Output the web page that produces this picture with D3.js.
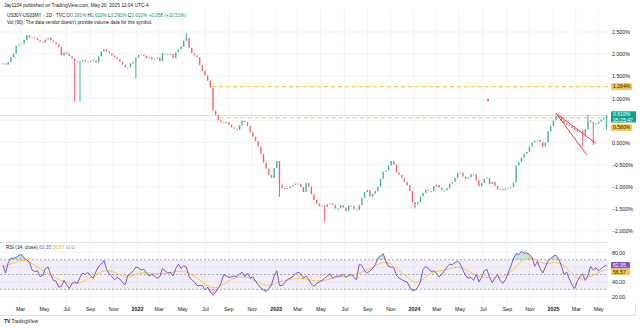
<!DOCTYPE html>
<html><head><meta charset="utf-8">
<script src="https://cdn.jsdelivr.net/npm/d3@7"></script>
<style>
html,body{margin:0;padding:0;background:#fff;}
svg{display:block;font-family:"Liberation Sans",Arial,sans-serif;}
</style></head><body>
<svg id="c" width="640" height="328"></svg>
<script>
// ---------- DATA ----------
const startDate = "2021-01-15";      // first weekly candle
const stepDays = 7;                  // weekly candles
const closes = [
 1.79,1.76,1.82,1.93,2.01,2.19,2.22,2.24,2.32,2.43,
 2.37,2.38,2.36,2.32,2.28,2.26,2.33,2.37,2.31,2.27,
 2.22,2.16,1.97,2.04,2.00,1.95,1.90,1.84,1.83,1.84,
 1.87,1.83,1.82,1.85,1.86,1.81,1.95,2.06,2.11,2.06,
 2.02,1.97,1.93,1.89,1.83,1.76,1.70,1.70,1.79,1.82,
 1.92,1.98,1.99,1.96,1.91,1.93,1.88,1.89,1.92,1.84,
 2.02,2.01,1.99,2.00,1.91,2.04,2.11,2.17,2.30,2.36,
 2.14,2.02,1.97,1.93,1.75,1.62,1.52,1.40,1.24,0.72,
 0.62,0.50,0.46,0.44,0.46,0.40,0.34,0.31,0.28,0.39,
 0.49,0.46,0.37,0.23,0.13,0.03,-0.09,-0.26,-0.46,-0.59,
 -0.73,-0.80,-0.58,-0.42,-0.95,-1.03,-1.05,-1.03,-0.99,-0.96,
 -0.93,-0.94,-1.01,-1.12,-0.92,-1.00,-1.17,-1.30,-1.38,-1.44,
 -1.42,-1.46,-1.40,-1.38,-1.41,-1.49,-1.49,-1.42,-1.47,-1.55,
 -1.43,-1.44,-1.51,-1.53,-1.42,-1.25,-1.12,-1.08,-1.22,-1.16,
 -1.10,-1.00,-0.82,-0.66,-0.63,-0.52,-0.42,-0.50,-0.68,-0.73,
 -0.81,-0.89,-0.97,-1.10,-1.35,-1.40,-1.35,-1.22,-1.14,-1.07,
 -1.10,-1.10,-0.99,-0.96,-1.02,-1.08,-1.08,-1.03,-0.93,-0.89,
 -0.80,-0.69,-0.68,-0.77,-0.82,-0.79,-0.72,-0.72,-0.86,-0.99,
 -0.92,-0.82,-0.80,-0.94,-0.89,-0.98,-1.06,-1.05,-1.08,-1.04,
 -1.02,-1.01,-0.90,-0.52,-0.44,-0.34,-0.26,-0.21,-0.09,0.00,
 0.04,0.06,0.01,-0.09,0.00,0.25,0.37,0.50,0.60,0.58,
 0.50,0.44,0.40,0.37,0.33,0.28,0.25,0.27,0.18,0.30,
 0.50,0.46,0.42,0.43,0.47,0.52,0.56,0.61
];
// notable wicks: candle index and wick extreme
const wickIdx = [27,29,50,69,104,121,155,218,220,222,227];
const wickEnd = [0.92,0.92,1.45,2.48,-1.23,-1.79,-1.49,-0.09,0.63,-0.06,0.29];

const rsi = [
 62.8,52,66,72,72,73,76,77,72,70,
 66,56,54,55,47,49,58,60,50,42,
 41,33,34,42,36,31,38,40,38,46,
 52,50,53,48,45,54,61,64,69,57,
 51,47,43,46,44,39,36,49,51,55,
 60,59,56,57,52,48,50,48,45,47,
 58,55,52,53,48,58,64,58,62,60,
 47,43,40,35,35,35,29,33,26,22,
 26,31,38,50,48,46,47,48,47,51,
 53,47,52,45,47,41,36,32,29,27,
 31,36,48,55,35,35,39,43,45,47,
 51,53,51,45,48,43,37,34,38,40,
 42,45,48,51,45,47,48,48,50,46,
 49,50,46,43,64,62,55,52,55,58,
 63,72,75,78,68,61,60,59,49,45,
 43,41,40,33,28,29,33,40,57,61,
 58,54,55,52,47,50,55,60,64,63,
 66,68,64,56,48,45,46,42,50,40,
 46,55,57,46,39,45,50,42,38,43,
 52,61,72,78,77,81,79,79,77,73,
 61,68,58,52,60,69,71,75,76,71,
 62,50,53,44,36,31,41,47,51,42,
 48,61,56,59,55,58,61,62.35
];
// RSI moving average, one value every 4 candles, plus the last candle
const rsiMAIdx = [0,4,8,12,16,20,24,28,32,36,40,44,48,52,56,60,64,68,72,76,80,84,88,92,96,100,104,108,112,116,120,124,128,132,136,140,144,148,152,156,160,164,168,172,176,180,184,188,192,196,200,204,208,212,216,220,224,227];
const rsiMA = [60,66,71,63,52,45,38,37,43,53,57,49,46,54,51,51,53,56,48,37,29,40,47,47,39,33,41,43,46,42,40,46,47,48,55,62,69,59,46,35,52,55,57,62,52,46,45,46,56,73,72,62,69,60,42,45,53,56.57];

const priceTicks = [2.5,2.0,1.5,1.0,0.0,-0.5,-1.0,-1.5,-2.0];
const priceGrid = [2.5,2.0,1.5,1.0,0.5,0.0,-0.5,-1.0,-1.5,-2.0];
const rsiTicks = [80,40,20];
const rsiGrid = [80,60,40,20];
const monthDates = ["2021-03-01","2021-05-03","2021-07-01","2021-09-01","2021-11-01","2022-01-03","2022-03-01","2022-05-02","2022-07-01","2022-09-01","2022-11-01","2023-01-03","2023-03-01","2023-05-01","2023-07-03","2023-09-01","2023-11-01","2024-01-02","2024-03-01","2024-05-01","2024-07-01","2024-09-03","2024-11-01","2025-01-02","2025-03-03","2025-05-01"];
const monthLabels = ["Mar","May","Jul","Sep","Nov","2022","Mar","May","Jul","Sep","Nov","2023","Mar","May","Jul","Sep","Nov","2024","Mar","May","Jul","Sep","Nov","2025","Mar","May"];

const levelValues = [1.264, 0.56];
const levelStarts = ["2022-07-19","2022-08-09"];
const lastPrice = 0.61;
const wedgeApex = {d:"2025-01-10", v:0.66};
const wedgeEnds = [{d:"2025-04-25", v:-0.02},{d:"2025-04-01", v:-0.28}];
const markerDot = {d:"2024-07-15", v:0.96};

// ---------- SETUP ----------
const parse = d3.timeParse("%Y-%m-%d");
const start = parse(startDate);
const dates = closes.map((_, i) => d3.timeDay.offset(start, i*stepDays));
const svg = d3.select("#c");
const plotR = 608;
const x = d3.scaleTime().domain([parse("2022-01-03"), parse("2025-01-02")]).range([137, 553]);
const yP = d3.scaleLinear().domain([-2, 2.5]).range([230.9, 32]);
const yR = d3.scaleLinear().domain([20, 80]).range([296.7, 252.3]);
const UP = "#3bb3a2", DN = "#f0636b", YEL = "#f9c74f", TXT = "#131722";
const AX = 5.3;

// grid
const grid = svg.append("g");
grid.selectAll("line.v").data(monthDates).join("line")
  .attr("x1", d => x(parse(d))).attr("x2", d => x(parse(d)))
  .attr("y1", 9).attr("y2", 303).attr("stroke", "#f2f3f6").attr("stroke-width", 1);
grid.selectAll("line.hp").data(priceGrid).join("line").attr("class","hp")
  .attr("x1", 0).attr("x2", plotR).attr("y1", d => yP(d)).attr("y2", d => yP(d))
  .attr("stroke", "#f2f3f6");
grid.selectAll("line.hr").data(rsiGrid).join("line").attr("class","hr")
  .attr("x1", 0).attr("x2", plotR).attr("y1", d => yR(d)).attr("y2", d => yR(d))
  .attr("stroke", "#f2f3f6");
// pane separator and frame
svg.append("line").attr("x1",0).attr("x2",plotR).attr("y1",242.5).attr("y2",242.5).attr("stroke","#e0e3eb");
svg.append("line").attr("x1",0).attr("x2",635).attr("y1",315.5).attr("y2",315.5).attr("stroke","#e0e3eb");
svg.append("line").attr("x1",635.5).attr("x2",635.5).attr("y1",303).attr("y2",315.5).attr("stroke","#e0e3eb");

svg.append("clipPath").attr("id","pclip").append("rect").attr("x",0).attr("y",9).attr("width",plotR).attr("height",233);
svg.append("clipPath").attr("id","rclip").append("rect").attr("x",0).attr("y",243).attr("width",plotR).attr("height",60);

// ---------- PRICE PANE ----------
const pg = svg.append("g").attr("clip-path","url(#pclip)");
// last price line
pg.append("line").attr("x1",0).attr("x2",plotR).attr("y1",yP(lastPrice)).attr("y2",yP(lastPrice))
  .attr("stroke","#c4ebe5").attr("stroke-width",1);
// dashed levels
levelValues.forEach((v,i) => {
  pg.append("line").attr("x1", x(parse(levelStarts[i]))).attr("x2", plotR)
    .attr("y1", yP(v)).attr("y2", yP(v)).attr("stroke", YEL).attr("stroke-width", 1.2)
    .attr("stroke-dasharray","4,3");
});
// candles
const candles = closes.map((c,i) => ({d:dates[i], o: i ? closes[i-1] : c, c}));
const wickMap = new Map(wickIdx.map((k,j)=>[k, wickEnd[j]]));
pg.selectAll("line.wick").data(candles.map((c,i)=>({...c,i})).filter(c=>wickMap.has(c.i))).join("line")
  .attr("x1", d=>x(d.d)).attr("x2", d=>x(d.d))
  .attr("y1", d=> { const w = wickMap.get(d.i); return yP(w < Math.min(d.o,d.c) ? Math.min(d.o,d.c) : Math.max(d.o,d.c)); })
  .attr("y2", d=> yP(wickMap.get(d.i)))
  .attr("stroke", d=> d.c>=d.o ? UP : DN).attr("stroke-width", 1);
pg.selectAll("rect.body").data(candles).join("rect")
  .attr("x", d=>x(d.d)-0.7).attr("width", 1.4)
  .attr("y", d=>yP(Math.max(d.o,d.c)))
  .attr("height", d=>Math.max(0.9, Math.abs(yP(d.o)-yP(d.c))))
  .attr("fill", d=> d.c>=d.o ? UP : DN);
// wedge drawing
wedgeEnds.forEach(e => {
  pg.append("line").attr("x1", x(parse(wedgeApex.d))).attr("y1", yP(wedgeApex.v))
    .attr("x2", x(parse(e.d))).attr("y2", yP(e.v)).attr("stroke","#f23645").attr("stroke-width",1);
});
pg.append("circle").attr("cx", x(parse(markerDot.d))).attr("cy", yP(markerDot.v)).attr("r",1).attr("fill","#f23645");

// price axis
const fmtP = v => d3.format(".3f")(v) + "%";
const pa = svg.append("g").attr("transform",`translate(${plotR},0)`)
  .call(d3.axisRight(yP).tickValues(priceTicks).tickFormat(fmtP).tickSize(0).tickPadding(4));
pa.select(".domain").remove();
pa.selectAll("text").attr("font-size",AX).attr("fill",TXT).attr("font-family","Liberation Sans, Arial, sans-serif");

function tag(g, yc, lines, bg, fg, w, h) {
  const gg = g.append("g");
  gg.append("rect").attr("x", 611).attr("y", yc - h/2).attr("width", w).attr("height", h).attr("rx",1).attr("fill", bg);
  lines.forEach((t,k) => gg.append("text").attr("x", 613).attr("y", yc - h/2 + 5 + k*5.4)
     .attr("font-size",5.1).attr("fill",fg).text(t));
}
tag(svg, yP(1.264), ["1.264%"], YEL, TXT, 21, 6.8);
tag(svg, 116.8, ["0.610%","05:25:47"], "#10a38b", "#fff", 25, 11.2);
tag(svg, 127.6, ["0.560%"], YEL, TXT, 21, 6.8);

// ---------- RSI PANE ----------
const rg = svg.append("g").attr("clip-path","url(#rclip)");
rg.append("rect").attr("x",0).attr("width",plotR).attr("y",yR(70)).attr("height",yR(30)-yR(70)).attr("fill","rgba(126,87,194,0.10)");
[70,50,30].forEach(v => rg.append("line").attr("x1",0).attr("x2",plotR).attr("y1",yR(v)).attr("y2",yR(v))
  .attr("stroke","#9598a1").attr("stroke-width",0.8).attr("stroke-dasharray","2,2"));
const rpts = rsi.map((v,i)=>({d:dates[i], v}));
rg.append("path").datum(rpts).attr("fill","rgba(8,153,129,0.25)")
  .attr("d", d3.area().x(d=>x(d.d)).y0(yR(70)).y1(d=>yR(Math.max(70,d.v))));
rg.append("path").datum(rpts).attr("fill","rgba(242,54,69,0.3)")
  .attr("d", d3.area().x(d=>x(d.d)).y0(yR(30)).y1(d=>yR(Math.min(30,d.v))));
rg.append("path").datum(rsiMAIdx.map((k,j)=>({d:dates[k], v:rsiMA[j]}))).attr("fill","none")
  .attr("stroke","#f7c948").attr("stroke-width",1)
  .attr("d", d3.line().curve(d3.curveBasis).x(d=>x(d.d)).y(d=>yR(d.v)));
rg.append("path").datum(rpts).attr("fill","none").attr("stroke","#7e57c2").attr("stroke-width",1)
  .attr("d", d3.line().x(d=>x(d.d)).y(d=>yR(d.v)));

const ra = svg.append("g").attr("transform",`translate(${plotR},0)`)
  .call(d3.axisRight(yR).tickValues(rsiTicks).tickFormat(d3.format(".2f")).tickSize(0).tickPadding(4));
ra.select(".domain").remove();
ra.selectAll("text").attr("font-size",AX).attr("fill",TXT).attr("font-family","Liberation Sans, Arial, sans-serif");
tag(svg, 265.3, ["62.35"], "#7e57c2", "#fff", 19, 6.4);
tag(svg, 271.8, ["56.57"], YEL, TXT, 19, 6.4);

// RSI legend
const lg = svg.append("text").attr("x",6).attr("y",248.8).attr("font-size",4.8).attr("fill",TXT);
lg.append("tspan").text("RSI (14, close) ");
lg.append("tspan").attr("fill","#7e57c2").text("62.35 ");
lg.append("tspan").attr("fill","#f2b01e").text("56.57 ");
lg.append("tspan").attr("fill","#787b86").text("∅ ∅");

// ---------- TIME AXIS ----------
const ta = svg.append("g").attr("transform","translate(0,305)")
  .call(d3.axisBottom(x).tickValues(monthDates.map(parse)).tickFormat((d,i)=>monthLabels[i]).tickSize(0).tickPadding(2));
ta.select(".domain").remove();
ta.selectAll("text").attr("font-size",AX).attr("fill",TXT).attr("font-family","Liberation Sans, Arial, sans-serif")
  .attr("font-weight",(d,i)=> /^\d/.test(monthLabels[i]) ? "bold" : "normal");

// ---------- HEADER / FOOTER ----------
svg.append("text").attr("x",4).attr("y",6.8).attr("font-size",4.8).attr("fill",TXT)
  .text("Jay1104 published on TradingView.com, May 20, 2025 12:04 UTC-4");
const info = svg.append("text").attr("x",7).attr("y",17).attr("font-size",4.7).attr("fill",TXT);
const G = "#089981";
[["US30Y-US03MY · 1D · TVC  ",TXT],["O",TXT],["0.291% ",G],["H",TXT],["0.610% ",G],["L",TXT],["0.291% ",G],["C",TXT],["0.610% ",G],["+0.058 (+10.51%)",G]]
  .forEach(([t,c]) => info.append("tspan").attr("fill",c).text(t));
svg.append("text").attr("x",7).attr("y",23.8).attr("font-size",4.7).attr("fill",TXT)
  .text("Vol (90): The data vendor doesn't provide volume data for this symbol.");
svg.append("text").attr("x",4).attr("y",322.8).attr("font-size",5).attr("font-weight","bold").attr("fill",TXT).text("TV");
svg.append("text").attr("x",11.5).attr("y",322.8).attr("font-size",4.8).attr("fill",TXT).text("TradingView");
</script>
</body></html>
